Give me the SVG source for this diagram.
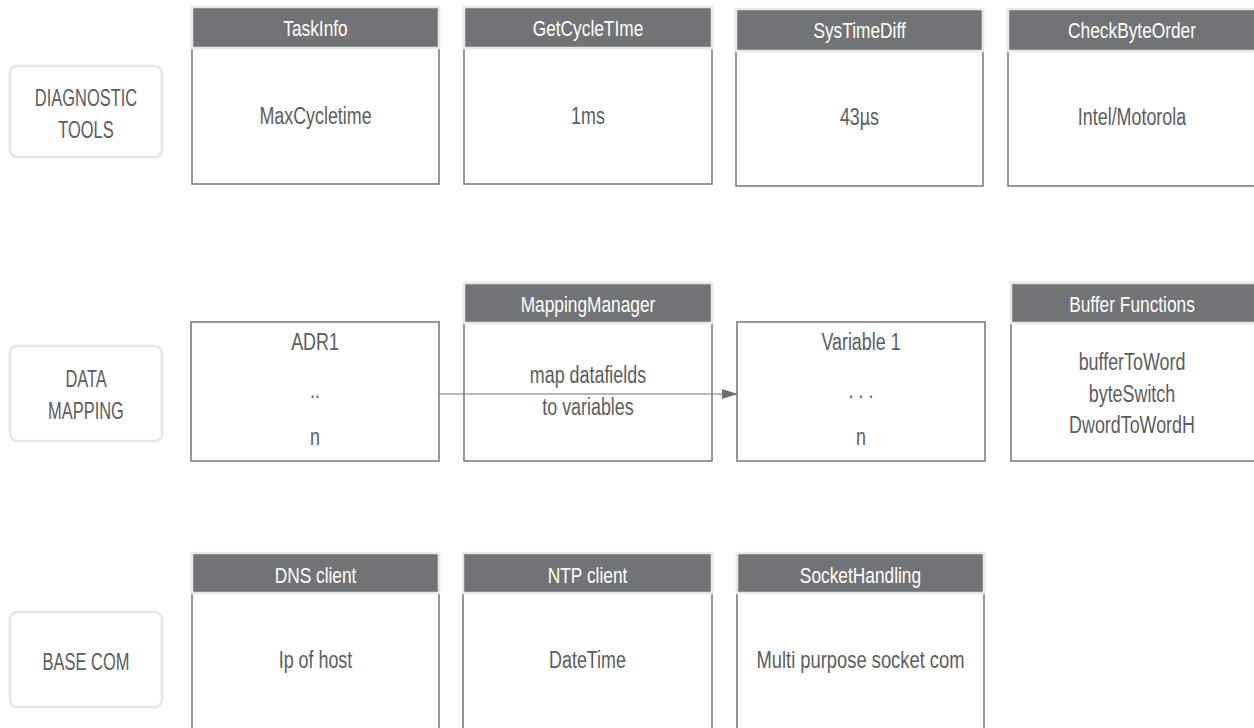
<svg xmlns="http://www.w3.org/2000/svg" width="1254" height="728" viewBox="0 0 1254 728">
<defs>
<style>
text{font-family:"Liberation Sans",Arial,sans-serif;text-anchor:middle;fill:#5b5c5e;font-size:24.5px;transform-box:fill-box;transform-origin:center;transform:scaleX(0.73)}
.lbl{fill:#fff;stroke:#e6e6e6;stroke-width:2.5}
.lt{font-size:23.5px;transform:scaleX(0.7)}
.hd{fill:#727376;stroke:#e8e8e8;stroke-width:2.5}
.ht{fill:#fff;font-size:22.5px;transform:scaleX(0.77)}
.bd{fill:#fff;stroke:#7d7d7f;stroke-width:1.6}
.conn{stroke:#707072;stroke-width:1.2;fill:none}
.fit{transform:none}
</style>
<marker id="ah" markerWidth="16" markerHeight="10" refX="15" refY="5" orient="auto" markerUnits="userSpaceOnUse">
<path d="M0,0 L16,5 L0,10 Z" fill="#707072"/>
</marker>
</defs>

<g id="label-diagnostic">
<rect class="lbl" x="10" y="66" width="152" height="91" rx="7"/>
<text class="lt" x="86" y="106">DIAGNOSTIC</text>
<text class="lt" x="86" y="138">TOOLS</text>
</g>
<g id="label-datamapping">
<rect class="lbl" x="10" y="346" width="152" height="95" rx="7"/>
<text class="lt" x="86" y="387">DATA</text>
<text class="lt" x="86" y="419">MAPPING</text>
</g>
<g id="label-basecom">
<rect class="lbl" x="10" y="612" width="152" height="95" rx="7"/>
<text class="lt" x="86" y="670">BASE COM</text>
</g>

<g id="taskinfo">
<rect class="bd" x="192" y="48" width="247" height="136"/>
<rect class="hd" x="192" y="7" width="247" height="41"/>
<text class="ht" x="315.5" y="36.5">TaskInfo</text>
<text x="315.5" y="124">MaxCycletime</text>
</g>
<g id="getcycletime">
<rect class="bd" x="464" y="48" width="248" height="136"/>
<rect class="hd" x="464" y="7" width="248" height="41"/>
<text class="ht" x="588" y="36.5">GetCycleTIme</text>
<text x="588" y="124">1ms</text>
</g>
<g id="systimediff">
<rect class="bd" x="736" y="51" width="247" height="135"/>
<rect class="hd" x="736" y="9" width="247" height="42"/>
<text class="ht" x="859.5" y="38.5">SysTimeDiff</text>
<text x="859.5" y="125">43µs</text>
</g>
<g id="checkbyteorder">
<rect class="bd" x="1008" y="51" width="250" height="135"/>
<rect class="hd" x="1008" y="9" width="250" height="42"/>
<text class="ht" x="1132" y="38.5">CheckByteOrder</text>
<text x="1132" y="125">Intel/Motorola</text>
</g>

<g id="adr">
<rect class="bd" x="191" y="322" width="248" height="139"/>
<text x="315" y="350">ADR1</text>
<text x="315" y="398">..</text>
<text x="315" y="445">n</text>
</g>
<g id="mappingmanager">
<rect class="bd" x="464" y="323" width="248" height="138"/>
<rect class="hd" x="464" y="283" width="248" height="40"/>
<text class="ht" x="588" y="312">MappingManager</text>
<text x="588" y="383">map datafields</text>
<text x="588" y="415">to variables</text>
</g>
<g id="variables">
<rect class="bd" x="737" y="322" width="248" height="139"/>
<text x="861" y="350">Variable 1</text>
<text x="861" y="398">. . .</text>
<text x="861" y="445">n</text>
</g>
<g id="bufferfunctions">
<rect class="bd" x="1011" y="323" width="247" height="138"/>
<rect class="hd" x="1011" y="283" width="247" height="40"/>
<text class="ht" x="1132" y="312">Buffer Functions</text>
<text x="1132" y="370">bufferToWord</text>
<text x="1132" y="402">byteSwitch</text>
<text x="1132" y="433">DwordToWordH</text>
</g>

<g id="dnsclient">
<rect class="bd" x="192" y="593" width="247" height="140"/>
<rect class="hd" x="192" y="553" width="247" height="40"/>
<text class="ht" x="315.5" y="583">DNS client</text>
<text x="315.5" y="668">Ip of host</text>
</g>
<g id="ntpclient">
<rect class="bd" x="463" y="593" width="249" height="140"/>
<rect class="hd" x="463" y="553" width="249" height="40"/>
<text class="ht" x="587.5" y="583">NTP client</text>
<text x="587.5" y="668">DateTime</text>
</g>
<g id="sockethandling">
<rect class="bd" x="737" y="593" width="247" height="140"/>
<rect class="hd" x="737" y="553" width="247" height="40"/>
<text class="ht" x="860.5" y="583">SocketHandling</text>
<text class="fit" x="860.5" y="668" textLength="208" lengthAdjust="spacingAndGlyphs">Multi purpose socket com</text>
</g>

<g id="connectors">
<line class="conn" x1="439" y1="394" x2="737" y2="394" marker-end="url(#ah)"/>
</g>
</svg>
